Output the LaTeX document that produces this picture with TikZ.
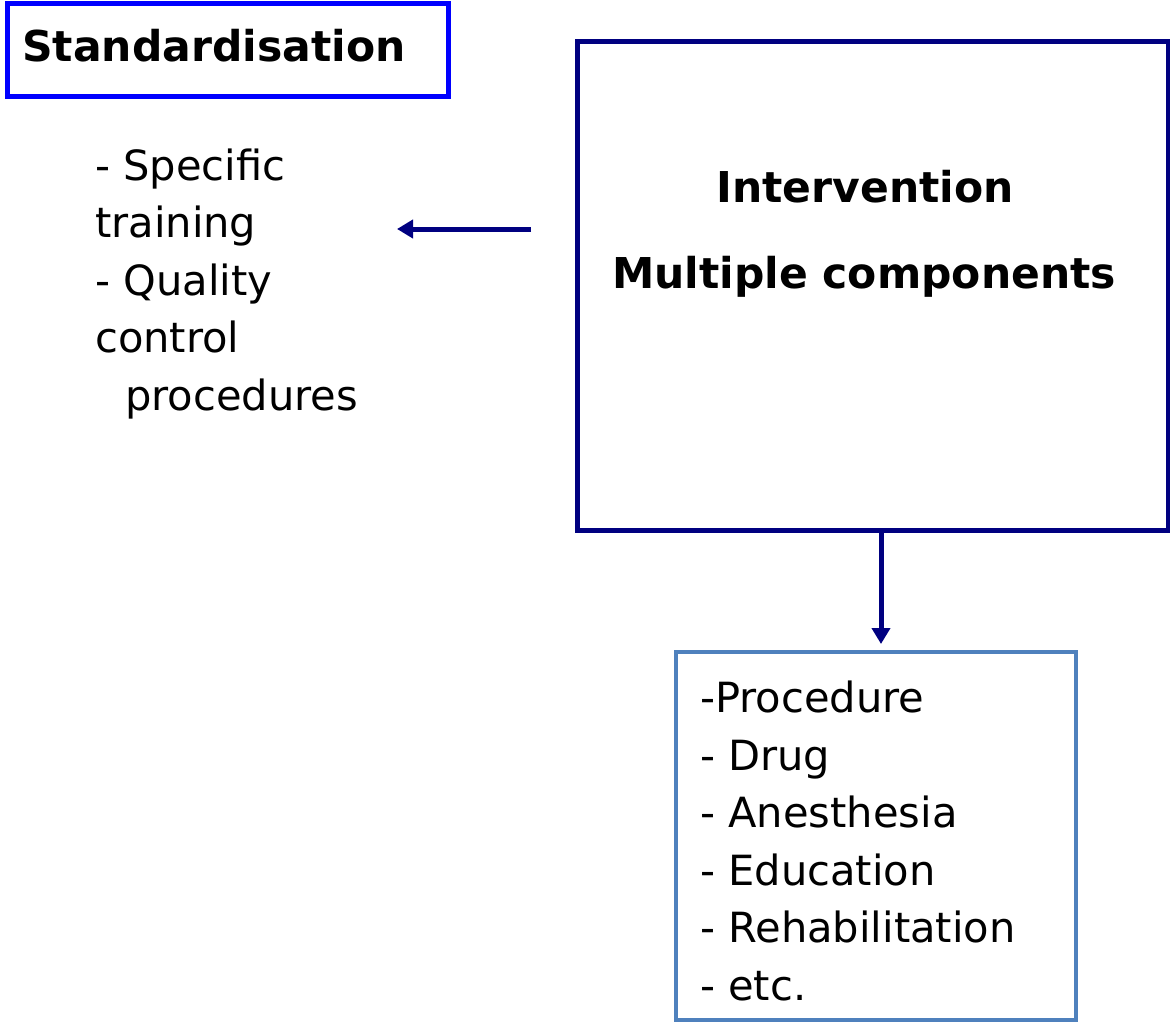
\documentclass[tikz,border=0pt]{standalone}
\usepackage{fontspec}
\setmainfont{DejaVu Sans}
\usetikzlibrary{arrows.meta}
\definecolor{boxblue}{RGB}{0,0,255}
\definecolor{navy}{RGB}{0,0,128}
\definecolor{steel}{RGB}{79,129,189}
\tikzset{
  headline/.style={font=\fontsize{42.5}{48}\selectfont\bfseries, inner sep=0pt},
  listtext/.style={font=\fontsize{41.6}{57.5}\selectfont, align=left, inner sep=0pt},
  flow/.style={draw=navy, line width=5pt, -{Triangle[length=16pt,width=18pt]}},
}
\begin{document}
\begin{tikzpicture}[x=1pt,y=-1pt]
  \useasboundingbox (0,0) rectangle (1170,1022);
  % frames
  \draw[boxblue, line width=5pt] (7,4) rectangle (448,97);
  \node[headline, anchor=base west] (std) at (22,62) {Standardisation};

  \draw[navy, line width=5pt] (577,42) rectangle (1168,530);
  \node[headline, anchor=base] (int) at (865,202) {Intervention};
  \node[headline, anchor=base] (multi) at (864,288) {Multiple components};

  \draw[steel, line width=4pt] (676,652) rectangle (1076,1020);

  % left list (anchored on the baseline of its last line)
  \node[listtext, anchor=base west] (left) at (95,410)
    {- Specific\\training\\- Quality\\control\\\hspace*{30pt}procedures};

  % bottom list (anchored on the baseline of its last line)
  \node[listtext, anchor=base west] (bottom) at (700,1000)
    {-Procedure\\- Drug\\- Anesthesia\\- Education\\- Rehabilitation\\- etc.};

  % connectors
  \coordinate (ls) at (531,229);
  \coordinate (le) at (397,229);
  \coordinate (ds) at (881,530);
  \coordinate (de) at (881,644);
  \draw[flow] (ls) -- (le);
  \draw[flow] (ds) -- (de);
\end{tikzpicture}
\end{document}
